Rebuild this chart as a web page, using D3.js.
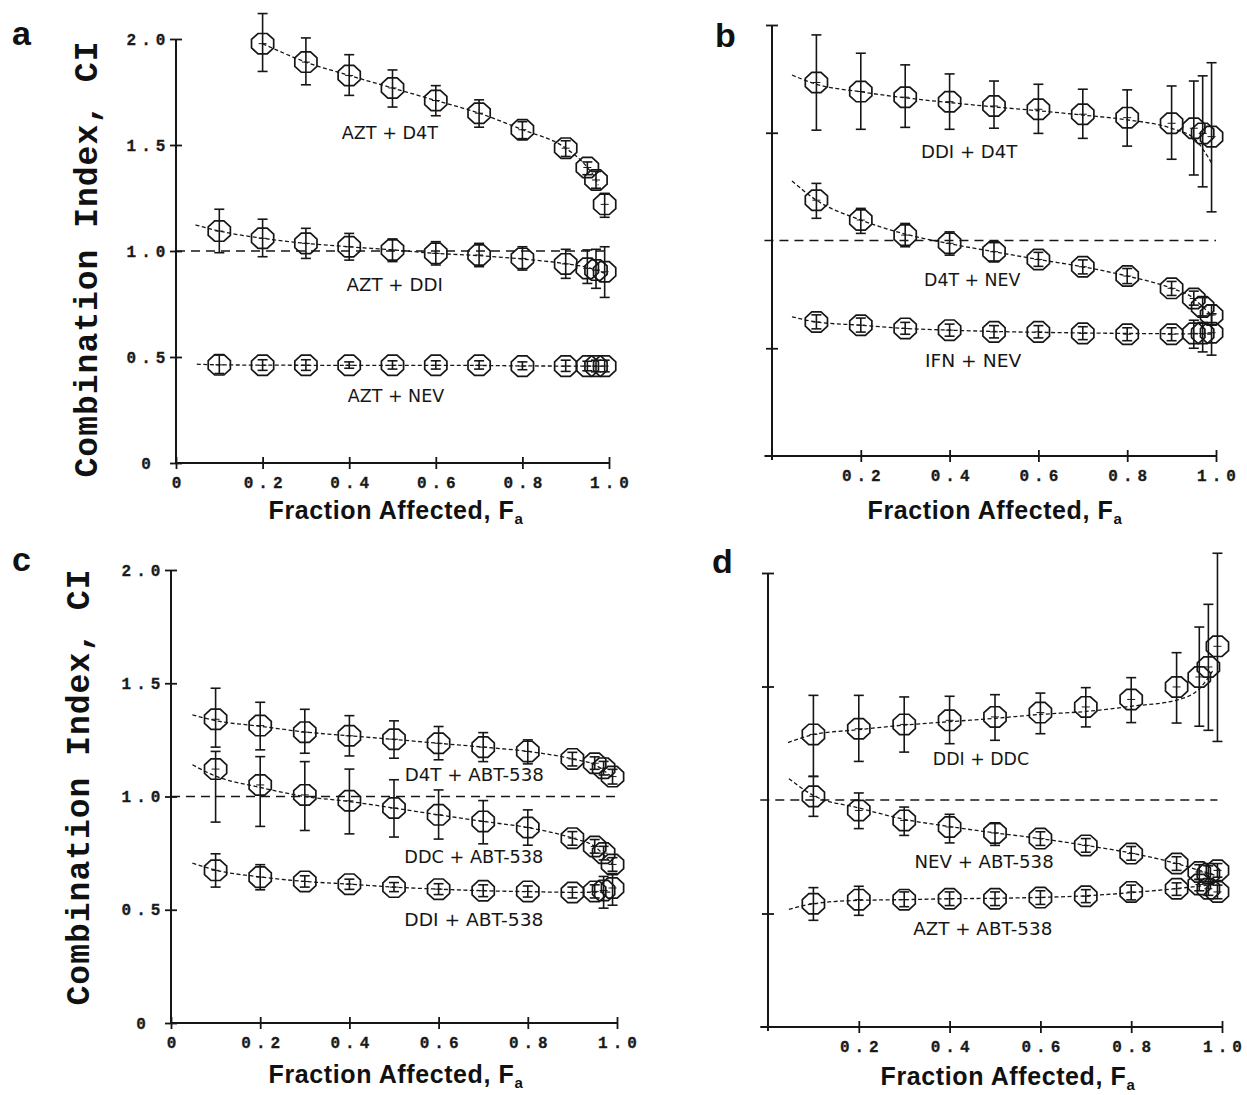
<!DOCTYPE html>
<html><head><meta charset="utf-8">
<script src="https://cdn.jsdelivr.net/npm/d3@7"></script>
<style>
body{margin:0;background:#fff;}
svg{display:block;background:#fff;}
.tick text{font-family:"Liberation Mono","Courier New",monospace;font-weight:bold;font-size:16px;letter-spacing:5px;fill:#1a1a1a;stroke:#1a1a1a;stroke-width:0.3px;}
</style></head><body>
<svg id="chart" width="1247" height="1095"></svg>
<script>
// ---------------- DATA ----------------
const fa      = [0.1,0.2,0.3,0.4,0.5,0.6,0.7,0.8,0.9,0.95,0.97,0.99];
const faFrom2 = [0.2,0.3,0.4,0.5,0.6,0.7,0.8,0.9,0.95,0.97,0.99];
const xTickVals   = [0,0.2,0.4,0.6,0.8,1.0];
const xTickLabels = ["0","0.2","0.4","0.6","0.8","1.0"];
const yTickVals   = [0,0.5,1.0,1.5,2.0];
const yTickLabels = ["0","0.5","1.0","1.5","2.0"];

// Panel a
const aztD4T_ci = [1.978,1.891,1.828,1.769,1.710,1.650,1.572,1.485,1.394,1.335,1.220];
const aztD4T_hi = [2.120,2.005,1.926,1.854,1.780,1.713,1.610,1.520,1.420,1.375,1.272];
const aztD4T_lo = [1.847,1.784,1.734,1.679,1.638,1.584,1.530,1.446,1.360,1.296,1.159];
const aztD4T_fit = [[0.2,1.978],[0.3,1.891],[0.4,1.828],[0.5,1.769],[0.6,1.710],[0.7,1.650],[0.8,1.572],[0.9,1.485],[0.95,1.394],[0.97,1.335],[0.975,1.31]];

const aztDDI_ci = [1.094,1.060,1.036,1.020,1.005,0.989,0.981,0.965,0.939,0.918,0.910,0.902];
const aztDDI_hi = [1.197,1.150,1.107,1.083,1.057,1.044,1.036,1.020,1.008,1.005,1.008,1.020];
const aztDDI_lo = [0.992,0.973,0.965,0.957,0.950,0.934,0.926,0.910,0.871,0.847,0.824,0.781];
const aztDDI_fit = [[0.045,1.123],[0.1,1.094],[0.2,1.060],[0.3,1.036],[0.4,1.020],[0.5,1.005],[0.6,0.989],[0.7,0.978],[0.8,0.962],[0.9,0.940],[0.95,0.922],[0.99,0.895]];

const aztNEV_ci = [0.463,0.461,0.461,0.461,0.461,0.461,0.461,0.457,0.457,0.457,0.457,0.457];
const aztNEV_hi = [0.509,0.487,0.487,0.477,0.482,0.482,0.482,0.477,0.485,0.480,0.485,0.485];
const aztNEV_lo = [0.422,0.437,0.437,0.447,0.443,0.443,0.443,0.440,0.432,0.435,0.430,0.430];
const aztNEV_fit = [[0.048,0.466],[0.1,0.463],[0.3,0.461],[0.7,0.460],[0.8,0.458],[0.99,0.457]];

// Panel b
const ddiD4T_ci = [1.733,1.691,1.665,1.644,1.624,1.609,1.586,1.570,1.544,1.521,1.497,1.482];
const ddiD4T_hi = [1.954,1.869,1.815,1.773,1.740,1.725,1.702,1.699,1.717,1.740,1.764,1.825];
const ddiD4T_lo = [1.512,1.516,1.525,1.516,1.521,1.497,1.474,1.438,1.377,1.304,1.249,1.133];
const ddiD4T_fit = [[0.045,1.768],[0.1,1.725],[0.2,1.690],[0.3,1.662],[0.4,1.640],[0.5,1.620],[0.6,1.602],[0.7,1.582],[0.8,1.560],[0.9,1.520],[0.95,1.475],[0.99,1.360]];

const d4tNEV_ci = [1.187,1.095,1.025,0.987,0.948,0.912,0.878,0.835,0.778,0.731,0.692,0.654];
const d4tNEV_hi = [1.265,1.149,1.079,1.040,0.990,0.945,0.910,0.870,0.810,0.765,0.735,0.700];
const d4tNEV_lo = [1.103,1.033,0.971,0.932,0.905,0.880,0.845,0.800,0.745,0.700,0.650,0.610];
const d4tNEV_fit = [[0.045,1.276],[0.1,1.187],[0.2,1.095],[0.3,1.030],[0.4,0.985],[0.5,0.948],[0.6,0.912],[0.7,0.878],[0.8,0.835],[0.9,0.778],[0.95,0.731],[0.97,0.692],[0.99,0.654]];

const ifnNEV_ci = [0.622,0.607,0.592,0.584,0.576,0.576,0.569,0.565,0.565,0.569,0.569,0.572];
const ifnNEV_hi = [0.655,0.640,0.620,0.612,0.605,0.605,0.600,0.595,0.595,0.630,0.620,0.660];
const ifnNEV_lo = [0.590,0.575,0.565,0.556,0.548,0.548,0.540,0.535,0.535,0.500,0.483,0.468];
const ifnNEV_fit = [[0.045,0.646],[0.1,0.622],[0.2,0.607],[0.3,0.592],[0.4,0.584],[0.5,0.578],[0.7,0.571],[0.99,0.566]];

// Panel c
const d4tABT_ci = [1.341,1.313,1.284,1.268,1.253,1.235,1.218,1.199,1.166,1.147,1.125,1.088];
const d4tABT_hi = [1.478,1.416,1.385,1.357,1.334,1.309,1.282,1.250,1.195,1.175,1.155,1.120];
const d4tABT_lo = [1.218,1.206,1.191,1.179,1.169,1.162,1.154,1.144,1.135,1.120,1.095,1.055];
const d4tABT_fit = [[0.048,1.360],[0.1,1.335],[0.2,1.310],[0.3,1.285],[0.4,1.268],[0.5,1.252],[0.6,1.235],[0.7,1.218],[0.8,1.199],[0.9,1.166],[0.95,1.140],[0.99,1.085]];

const ddcABT_ci = [1.121,1.051,1.007,0.981,0.949,0.919,0.890,0.863,0.816,0.779,0.750,0.700];
const ddcABT_hi = [1.199,1.176,1.154,1.121,1.074,1.029,0.982,0.941,0.845,0.810,0.780,0.730];
const ddcABT_lo = [0.887,0.868,0.850,0.835,0.821,0.812,0.791,0.785,0.785,0.750,0.720,0.670];
const ddcABT_fit = [[0.048,1.140],[0.1,1.090],[0.2,1.040],[0.3,1.000],[0.4,0.978],[0.5,0.949],[0.6,0.919],[0.7,0.890],[0.8,0.863],[0.9,0.816],[0.95,0.779],[0.99,0.700]];

const ddiABT_ci = [0.674,0.644,0.625,0.613,0.600,0.591,0.584,0.581,0.576,0.581,0.585,0.596];
const ddiABT_hi = [0.747,0.699,0.650,0.635,0.620,0.615,0.610,0.605,0.600,0.610,0.647,0.660];
const ddiABT_lo = [0.600,0.588,0.600,0.590,0.580,0.567,0.558,0.556,0.552,0.552,0.507,0.520];
const ddiABT_fit = [[0.048,0.706],[0.1,0.675],[0.2,0.645],[0.3,0.625],[0.4,0.613],[0.5,0.600],[0.6,0.591],[0.7,0.584],[0.8,0.580],[0.9,0.577],[0.99,0.578]];

// Panel d
const ddiDDC_ci = [1.289,1.314,1.333,1.351,1.366,1.385,1.410,1.443,1.498,1.542,1.586,1.677];
const ddiDDC_hi = [1.461,1.461,1.454,1.457,1.464,1.471,1.495,1.539,1.649,1.762,1.862,2.087];
const ddiDDC_lo = [1.104,1.170,1.211,1.248,1.263,1.292,1.322,1.341,1.339,1.325,1.307,1.258];
const ddiDDC_fit = [[0.044,1.253],[0.1,1.288],[0.2,1.310],[0.3,1.330],[0.4,1.345],[0.5,1.360],[0.6,1.377],[0.7,1.390],[0.8,1.413],[0.9,1.440],[0.95,1.490],[0.98,1.570]];

const nevABT_ci = [1.016,0.954,0.910,0.881,0.855,0.830,0.800,0.764,0.720,0.683,0.675,0.690];
const nevABT_hi = [1.104,1.031,0.969,0.937,0.896,0.860,0.830,0.795,0.750,0.715,0.710,0.720];
const nevABT_lo = [0.928,0.874,0.844,0.811,0.800,0.800,0.770,0.735,0.690,0.650,0.640,0.660];
const nevABT_fit = [[0.046,1.094],[0.1,1.020],[0.2,0.965],[0.3,0.915],[0.4,0.883],[0.5,0.855],[0.6,0.830],[0.7,0.800],[0.8,0.766],[0.9,0.720],[0.95,0.690],[0.99,0.665]];

const aztABT_ci = [0.543,0.561,0.561,0.565,0.565,0.570,0.576,0.595,0.609,0.628,0.609,0.595];
const aztABT_hi = [0.614,0.620,0.595,0.595,0.595,0.600,0.605,0.625,0.635,0.650,0.640,0.625];
const aztABT_lo = [0.470,0.492,0.530,0.535,0.535,0.540,0.548,0.560,0.580,0.600,0.580,0.565];
const aztABT_fit = [[0.046,0.518],[0.1,0.543],[0.2,0.558],[0.3,0.561],[0.4,0.565],[0.5,0.567],[0.6,0.571],[0.7,0.578],[0.8,0.592],[0.9,0.610],[0.99,0.630]];

// series labels and their anchor (Fa, CI)
const labelsA = ["AZT + D4T","AZT + DDI","AZT + NEV"];
const labelsB = ["DDI + D4T","D4T + NEV","IFN + NEV"];
const labelsC = ["D4T + ABT-538","DDC + ABT-538","DDI + ABT-538"];
const labelsD = ["DDI + DDC","NEV + ABT-538","AZT + ABT-538"];
const labelPosA = [[0.494,1.526],[0.505,0.813],[0.508,0.290]];
const labelPosB = [[0.444,1.382],[0.451,0.787],[0.453,0.415]];
const labelPosC = [[0.680,1.067],[0.679,0.707],[0.679,0.428]];
const labelPosD = [[0.469,1.155],[0.476,0.699],[0.473,0.406]];

const panelLetters = ["a","b","c","d"];
const yTitle = "Combination Index, CI";
const xTitle = "Fraction Affected, F";
const xTitleSub = "a";

// ---------------- LAYOUT ----------------
const panels = [
  {letter:panelLetters[0], left:176, right:609, top:39, bottom:463, labelsOnAxes:true, xStart:0, refX:[0,1.0],
   lx:12, ly:45, tx:396, ty:519, ytX:97, ytY:259,
   series:[
     {x:faFrom2, ci:aztD4T_ci, hi:aztD4T_hi, lo:aztD4T_lo, fit:aztD4T_fit},
     {x:fa, ci:aztDDI_ci, hi:aztDDI_hi, lo:aztDDI_lo, fit:aztDDI_fit},
     {x:fa, ci:aztNEV_ci, hi:aztNEV_hi, lo:aztNEV_lo, fit:aztNEV_fit}],
   labels:labelsA, labelPos:labelPosA},
  {letter:panelLetters[1], left:772, right:1216, top:25, bottom:456, labelsOnAxes:false, xStart:-0.017, refX:[-0.017,1.0],
   lx:715, ly:47, tx:995, ty:519, ytX:null,
   series:[
     {x:fa, ci:ddiD4T_ci, hi:ddiD4T_hi, lo:ddiD4T_lo, fit:ddiD4T_fit},
     {x:fa, ci:d4tNEV_ci, hi:d4tNEV_hi, lo:d4tNEV_lo, fit:d4tNEV_fit},
     {x:fa, ci:ifnNEV_ci, hi:ifnNEV_hi, lo:ifnNEV_lo, fit:ifnNEV_fit}],
   labels:labelsB, labelPos:labelPosB},
  {letter:panelLetters[2], left:171, right:617, top:570, bottom:1023, labelsOnAxes:true, xStart:0, refX:[0,1.0],
   lx:12, ly:571, tx:396, ty:1083, ytX:89, ytY:787,
   series:[
     {x:fa, ci:d4tABT_ci, hi:d4tABT_hi, lo:d4tABT_lo, fit:d4tABT_fit},
     {x:fa, ci:ddcABT_ci, hi:ddcABT_hi, lo:ddcABT_lo, fit:ddcABT_fit},
     {x:fa, ci:ddiABT_ci, hi:ddiABT_hi, lo:ddiABT_lo, fit:ddiABT_fit}],
   labels:labelsC, labelPos:labelPosC},
  {letter:panelLetters[3], left:768, right:1222, top:573, bottom:1027, labelsOnAxes:false, xStart:-0.017, refX:[-0.017,0.99],
   lx:712, ly:573, tx:1008, ty:1085, ytX:null,
   series:[
     {x:fa, ci:ddiDDC_ci, hi:ddiDDC_hi, lo:ddiDDC_lo, fit:ddiDDC_fit},
     {x:fa, ci:nevABT_ci, hi:nevABT_hi, lo:nevABT_lo, fit:nevABT_fit},
     {x:fa, ci:aztABT_ci, hi:aztABT_hi, lo:aztABT_lo, fit:aztABT_fit}],
   labels:labelsD, labelPos:labelPosD}
];

const INK = "#161616";
const svg = d3.select("#chart");
const rx = 12, ry = 11;
const octPts = d3.range(8).map(i => {const a = Math.PI/8 + i*Math.PI/4; return [rx*Math.cos(a), ry*Math.sin(a)];});
const octPath = "M" + octPts.map(p => p.join(",")).join("L") + "Z";
const capW = 5;

panels.forEach(p => {
  const g = svg.append("g");
  const x = d3.scaleLinear().domain([0,1]).range([p.left, p.right]);
  const y = d3.scaleLinear().domain([0,2]).range([p.bottom, p.top]);

  // axis lines
  g.append("line").attr("x1", x(p.xStart)).attr("x2", x(1)).attr("y1", y(0)).attr("y2", y(0))
    .attr("stroke", INK).attr("stroke-width", 2);
  g.append("line").attr("x1", x(0)).attr("x2", x(0)).attr("y1", y(0) + (p.labelsOnAxes?0:4)).attr("y2", y(2))
    .attr("stroke", INK).attr("stroke-width", 2);

  // x axis ticks
  const xv = p.labelsOnAxes ? xTickVals : xTickVals.slice(1);
  const xAxis = d3.axisBottom(x).tickValues(xv)
    .tickFormat(d => xTickLabels[xTickVals.indexOf(d)]).tickSizeOuter(0);
  const gx = g.append("g").attr("transform", `translate(0,${y(0)})`).call(xAxis);
  gx.select(".domain").remove();
  gx.selectAll(".tick line").attr("y1", -6).attr("y2", 6).attr("stroke", INK).attr("stroke-width", 1.8);
  gx.selectAll(".tick text").attr("y", 24.5).attr("dy", null).attr("dx", 2.5);

  // y axis ticks
  const yv = p.labelsOnAxes ? yTickVals : [0.5,1.5,2.0];
  const yAxis = d3.axisLeft(y).tickValues(yv)
    .tickFormat(d => p.labelsOnAxes ? yTickLabels[yTickVals.indexOf(d)] : "").tickSizeOuter(0);
  const gy = g.append("g").attr("transform", `translate(${x(0)},0)`).call(yAxis);
  gy.select(".domain").remove();
  gy.selectAll(".tick line").attr("x1", -6).attr("x2", 6).attr("stroke", INK).attr("stroke-width", 1.8);
  gy.selectAll(".tick text").attr("x", -30).attr("dy", "0.32em").attr("text-anchor", "middle").attr("dx", 2.5);

  // reference line CI = 1
  g.append("line").attr("x1", x(p.refX[0])).attr("x2", x(p.refX[1])).attr("y1", y(1)).attr("y2", y(1))
    .attr("stroke", INK).attr("stroke-width", 1.6).attr("stroke-dasharray", "9,6");

  const line = d3.line().x(d => x(d[0])).y(d => y(d[1])).curve(d3.curveMonotoneX);

  p.series.forEach(s => {
    const sg = g.append("g");
    sg.append("path").attr("d", line(s.fit)).attr("fill", "none").attr("stroke", INK)
      .attr("stroke-width", 1.3).attr("stroke-dasharray", "4,2.5");
    const pts = s.x.map((v,i) => ({fa:v, ci:s.ci[i], hi:s.hi[i], lo:s.lo[i]}));
    const pg = sg.selectAll("g.pt").data(pts).join("g").attr("class","pt");
    pg.append("line").attr("x1", d => x(d.fa)).attr("x2", d => x(d.fa))
      .attr("y1", d => y(d.hi)).attr("y2", d => y(d.lo)).attr("stroke", INK).attr("stroke-width", 1.6);
    pg.append("line").attr("x1", d => x(d.fa)-capW).attr("x2", d => x(d.fa)+capW)
      .attr("y1", d => y(d.hi)).attr("y2", d => y(d.hi)).attr("stroke", INK).attr("stroke-width", 1.6);
    pg.append("line").attr("x1", d => x(d.fa)-capW).attr("x2", d => x(d.fa)+capW)
      .attr("y1", d => y(d.lo)).attr("y2", d => y(d.lo)).attr("stroke", INK).attr("stroke-width", 1.6);
    pg.append("line").attr("x1", d => x(d.fa)-4).attr("x2", d => x(d.fa)+4)
      .attr("y1", d => y(d.ci)).attr("y2", d => y(d.ci)).attr("stroke", INK).attr("stroke-width", 1);
    pg.append("path").attr("d", octPath).attr("transform", d => `translate(${x(d.fa)},${y(d.ci)})`)
      .attr("fill", "none").attr("stroke", INK).attr("stroke-width", 1.7);
  });

  // series labels
  g.selectAll("text.lab").data(p.labels).join("text").attr("class","lab")
    .attr("x", (d,i) => x(p.labelPos[i][0])).attr("y", (d,i) => y(p.labelPos[i][1]))
    .attr("text-anchor", "middle")
    .attr("font-family", "'Liberation Sans Narrow','DejaVu Sans Condensed','Liberation Sans',Arial,sans-serif")
    .attr("font-size", 18).attr("fill", INK)
    .attr("textLength", d => d.length * 10.7).attr("lengthAdjust", "spacingAndGlyphs")
    .text(d => d);

  // panel letter
  g.append("text").attr("x", p.lx).attr("y", p.ly).text(p.letter)
    .attr("font-family", "'Liberation Sans',Arial,sans-serif").attr("font-weight", "bold")
    .attr("font-size", 34).attr("fill", "#111");

  // x title
  const t = g.append("text").attr("x", p.tx).attr("y", p.ty).attr("text-anchor", "middle")
    .attr("font-family", "'Liberation Sans',Arial,sans-serif").attr("font-weight", "bold")
    .attr("font-size", 25).attr("letter-spacing", 0.6).attr("fill", "#111");
  t.append("tspan").text(xTitle);
  t.append("tspan").text(xTitleSub).attr("font-size", 15).attr("dy", 5);

  // y title
  if (p.ytX !== null) {
    g.append("text").attr("transform", `translate(${p.ytX},${p.ytY}) rotate(-90)`)
      .attr("text-anchor", "middle")
      .attr("font-family", "'Liberation Mono','Courier New',monospace").attr("font-weight", "bold")
      .attr("font-size", 33).attr("letter-spacing", 1).attr("fill", "#111")
      .text(yTitle);
  }
});
</script>
</body></html>
